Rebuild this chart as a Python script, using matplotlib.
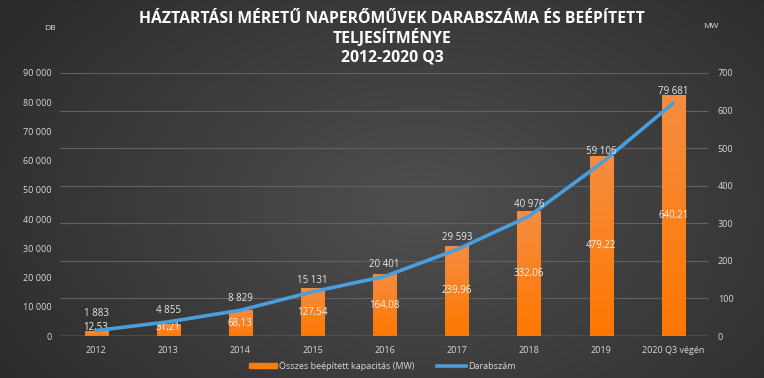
import numpy as np
import matplotlib
matplotlib.use("Agg")
import matplotlib.pyplot as plt
from matplotlib.lines import Line2D
from matplotlib.patches import Patch

years = ["2012", "2013", "2014", "2015", "2016", "2017", "2018", "2019", "2020 Q3 végén"]
darabszam = [1883, 4855, 8829, 15131, 20401, 29593, 40976, 59106, 79681]
kapacitas = [12.53, 31.21, 68.13, 127.54, 164.08, 239.96, 332.06, 479.22, 640.21]

plt.rcParams['font.family'] = ['Open Sans', 'DejaVu Sans']

fig = plt.figure(figsize=(7.64, 3.78), dpi=100)

# dark gradient background
bg = fig.add_axes([0, 0, 1, 1], zorder=-10)
yy, xx = np.mgrid[0:1:200j, 0:1:400j]
d = np.sqrt(((xx - 0.55) / 0.75) ** 2 + ((yy - 0.55) / 1.0) ** 2)
shade = np.clip(0.31 - 0.16 * d, 0.14, 0.31)
bg.imshow(np.dstack([shade] * 3), aspect='auto', extent=[0, 1, 0, 1])
bg.axis('off')

ax2 = fig.add_axes([0.0785, 0.111, 0.85, 0.696])
ax = ax2.twinx()
ax2.yaxis.tick_right()
ax.yaxis.tick_left()
ax.yaxis.set_label_position('left')
for a in (ax, ax2):
    a.set_facecolor('none')
    for s in a.spines.values():
        s.set_visible(False)

x = np.arange(len(years))

# bars (MW, right axis)
bars = ax2.bar(x, kapacitas, width=0.32, color='#FA7D12', zorder=2)
for b in bars:
    bx, by = b.get_x(), b.get_y()
    bw, bh = b.get_width(), b.get_height()
    grad = np.linspace(1, 0, 50)
    top = np.array([0.96, 0.55, 0.25])
    bot = np.array([1.0, 0.47, 0.0])
    cols = (bot + (top - bot) * grad[:, None])[:, None, :]
    im = ax2.imshow(cols, extent=[bx, bx + bw, by, by + bh], aspect='auto', zorder=2)
    im.set_clip_path(b)

ax2.set_ylim(0, 700)
ax2.set_yticks(range(0, 701, 100))
ax2.set_xlim(-0.5, len(years) - 0.5)
ax2.grid(axis='y', color='#626262', lw=0.8, zorder=0)
ax2.axhline(0, color='#9a9a9a', lw=1, zorder=3)

for i, v in enumerate(kapacitas):
    ax2.text(i, max(v / 2, 22), f"{v:.2f}".replace('.', ','), ha='center', va='center',
             color='#f2f2f2', fontsize=7, zorder=5)

# line (count, left axis)
ax.plot(x, darabszam, color='#4A9EDC', lw=2.6, zorder=4, solid_capstyle='round')
ax.set_ylim(0, 90000)
ax.set_yticks(range(0, 90001, 10000))
ax.set_yticklabels([f"{t:,}".replace(',', ' ') for t in range(0, 90001, 10000)])
for i, v in enumerate(darabszam):
    off = 12 if i == 0 else 8.5
    ax.annotate(f"{v:,}".replace(',', ' '), (i, v), xytext=(0, off), textcoords='offset points',
                ha='center', va='center', color='#e6e6e6', fontsize=7, zorder=6)

ax2.set_xticks(x)
ax2.set_xticklabels(years)
for a in (ax, ax2):
    a.tick_params(length=0, labelsize=6.5, colors='#d9d9d9', pad=6)
ax2.tick_params(axis='x', pad=7)

fig.text(0.513, 0.972, "HÁZTARTÁSI MÉRETŰ NAPERŐMŰVEK DARABSZÁMA ÉS BEÉPÍTETT\nTELJESÍTMÉNYE\n2012-2020 Q3",
         ha='center', va='top', color='white', fontsize=11.3, fontweight='bold', linespacing=1.2)
fig.text(0.066, 0.925, "DB", ha='center', va='center', color='#e0e0e0', fontsize=6)
fig.text(0.93, 0.93, "MW", ha='center', va='center', color='#e0e0e0', fontsize=6)

handles = [Patch(color='#FA7D12'), Line2D([0], [0], color='#4A9EDC', lw=2.6)]
fig.legend(handles, ["Összes beépített kapacitás (MW)", "Darabszám"], loc='center',
           bbox_to_anchor=(0.5, 0.032), ncol=2, frameon=False, fontsize=6.5,
           labelcolor='#d9d9d9', handlelength=3.2, handleheight=0.5, columnspacing=2.5, handletextpad=0.2)

fig.savefig("out.png", dpi=100)
